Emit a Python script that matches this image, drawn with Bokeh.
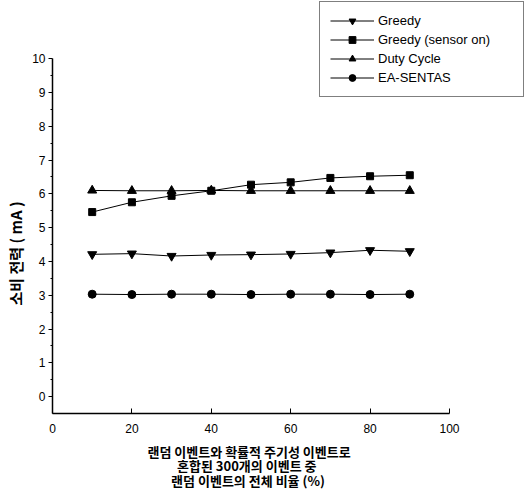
from bokeh.plotting import figure
from bokeh.models import Legend, LegendItem, Range1d, FixedTicker, Title
from bokeh.embed import file_html
from bokeh.resources import INLINE

x = [10, 20, 30, 40, 50, 60, 70, 80, 90]
greedy = [4.21, 4.23, 4.16, 4.19, 4.20, 4.22, 4.26, 4.33, 4.30]
greedy_sensor = [5.46, 5.75, 5.94, 6.09, 6.27, 6.34, 6.47, 6.52, 6.55]
duty_cycle = [6.10, 6.09, 6.09, 6.10, 6.09, 6.09, 6.09, 6.09, 6.09]
ea_sentas = [3.03, 3.02, 3.03, 3.03, 3.02, 3.03, 3.03, 3.02, 3.03]
x_ticks = [0, 20, 40, 60, 80, 100]
y_ticks = list(range(0, 11))
y_label = "소비 전력 ( mA )"
x_label_lines = ["랜덤 이벤트와 확률적 주기성 이벤트로",
                 "혼합된 300개의 이벤트 중",
                 "랜덤 이벤트의 전체 비율 (%)"]
# leading non-breaking spaces centre the shorter lines under the first one
x_label_indent = [0, 10, 8]

# frame extends to the top/right so the legend (outside the axes box) is not clipped
p = figure(width=524, height=495, output_backend="svg", toolbar_location=None,
           x_range=Range1d(0, 118.9), y_range=Range1d(-0.5, 11.72))
p.min_border_left = 52
p.min_border_right = 0
p.min_border_top = 0
p.min_border_bottom = 82
p.outline_line_color = None
p.grid.visible = False
p.background_fill_color = "white"
p.border_fill_color = "white"

for ax in (p.xaxis[0], p.yaxis[0]):
    ax.axis_line_color = "black"
    ax.axis_line_width = 1.5
    ax.major_tick_line_color = "black"
    ax.minor_tick_line_color = "black"
    ax.major_label_text_font = "Liberation Sans"
    ax.major_label_text_font_size = "12px"
    ax.major_label_text_color = "black"

p.xaxis.bounds = (0, 100)
p.yaxis.bounds = (-0.5, 10)
p.xaxis.ticker = FixedTicker(ticks=x_ticks, minor_ticks=[])
p.yaxis.ticker = FixedTicker(ticks=y_ticks, minor_ticks=[v + 0.5 for v in y_ticks[:-1]])
p.xaxis.major_tick_in = 5
p.xaxis.major_tick_out = 0
p.yaxis.major_tick_in = 0
p.yaxis.major_tick_out = 4
p.yaxis.minor_tick_in = 0
p.yaxis.minor_tick_out = 2
p.xaxis.major_label_standoff = 10
p.yaxis.major_label_standoff = 3

# y label (left title, positioned from the frame bottom)
ty = Title(text=y_label, align="left", vertical_align="top", offset=108, standoff=4,
           text_font="Noto Sans CJK KR", text_font_style="bold",
           text_font_size="15px", text_color="black", text_line_height=0.8)
p.add_layout(ty, "left")

# x label: one three-line title under the axis
x_text = "\n".join("\u00a0" * n + s for n, s in zip(x_label_indent, x_label_lines))
tx = Title(text=x_text, align="left", offset=95, standoff=8,
           text_font="Noto Sans CJK KR", text_font_style="bold",
           text_font_size="13px", text_color="black", text_line_height=0.75)
p.add_layout(tx, "below")

series = [
    ("Greedy", greedy, "inverted_triangle", 9),
    ("Greedy (sensor on)", greedy_sensor, "square", 7),
    ("Duty Cycle", duty_cycle, "triangle", 9),
    ("EA-SENTAS", ea_sentas, "circle", 8),
]
items = []
for name, ys, marker, size in series:
    l = p.line(x, ys, line_color="black", line_width=1)
    s = p.scatter(x, ys, marker=marker, size=size, fill_color="black", line_color="black")
    items.append(LegendItem(label=name, renderers=[l, s]))

legend = Legend(items=items, location=(267, 316))
legend.label_text_font = "Liberation Sans"
legend.label_text_font_size = "13px"
legend.label_text_color = "black"
legend.glyph_width = 44
legend.glyph_height = 17
legend.label_height = 17
legend.label_width = 135
legend.spacing = 2
legend.padding = 10
legend.margin = 0
legend.label_standoff = 4
legend.border_line_color = "black"
legend.border_line_width = 1
legend.background_fill_alpha = 1
p.add_layout(legend, "center")

open("out.html", "w").write(file_html(p, INLINE))
